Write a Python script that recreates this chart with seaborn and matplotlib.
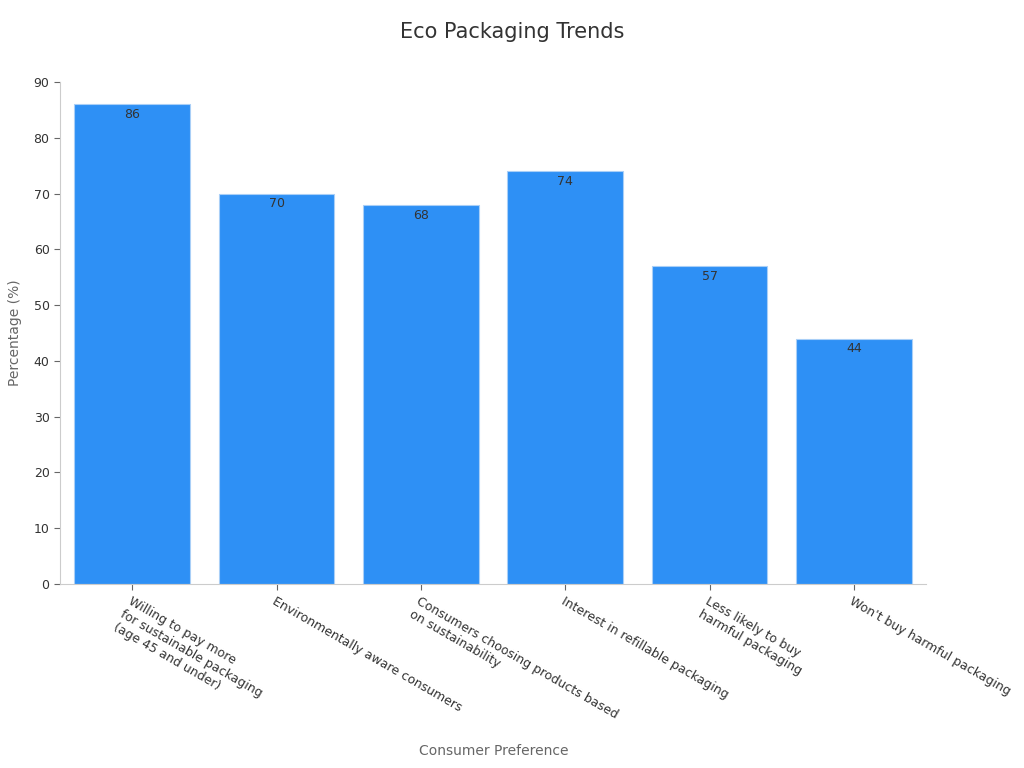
import matplotlib
matplotlib.use('Agg')
import matplotlib.pyplot as plt
import seaborn as sns
import pandas as pd

categories = [
    'Willing to pay more\nfor sustainable packaging\n(age 45 and under)',
    'Environmentally aware consumers',
    'Consumers choosing products based\non sustainability',
    'Interest in refillable packaging',
    'Less likely to buy\nharmful packaging',
    "Won't buy harmful packaging",
]
values = [86, 70, 68, 74, 57, 44]

sns.set_style('white')
plt.rcParams['font.family'] = ['DejaVu Sans']

df = pd.DataFrame({'pref': categories, 'pct': values})

fig = plt.figure(figsize=(10.24, 7.68), dpi=100)
ax = fig.add_axes([0.0586, 0.2396, 0.8457, 0.6536])

sns.barplot(data=df, x='pref', y='pct', color='#2E90F5', saturation=1,
            width=0.8, edgecolor='#A9CFF7', linewidth=0.8, ax=ax)

for i, v in enumerate(values):
    ax.text(i, v - 0.7, str(v), ha='center', va='top', fontsize=9, color='#333333')

ax.set_ylim(0, 90)
ax.set_xlim(-0.5, 5.5)
ax.set_yticks(range(0, 91, 10))

for s in ['top', 'right']:
    ax.spines[s].set_visible(False)
for s in ['left', 'bottom']:
    ax.spines[s].set_color('#CCCCCC')
    ax.spines[s].set_linewidth(0.8)

ax.tick_params(axis='both', length=4, color='#666666', labelsize=9, labelcolor='#333333', bottom=True, left=True)
plt.setp(ax.get_xticklabels(), rotation=-30, ha='left', rotation_mode='anchor')

ax.set_xlabel('Consumer Preference', fontsize=10, color='#666666', va='center')
ax.xaxis.set_label_coords(0.501, -0.333)
ax.set_ylabel('Percentage (%)', fontsize=10, color='#666666', labelpad=8)
fig.suptitle('Eco Packaging Trends', fontsize=15, color='#333333', y=0.972)

fig.savefig('out.png', dpi=100)
